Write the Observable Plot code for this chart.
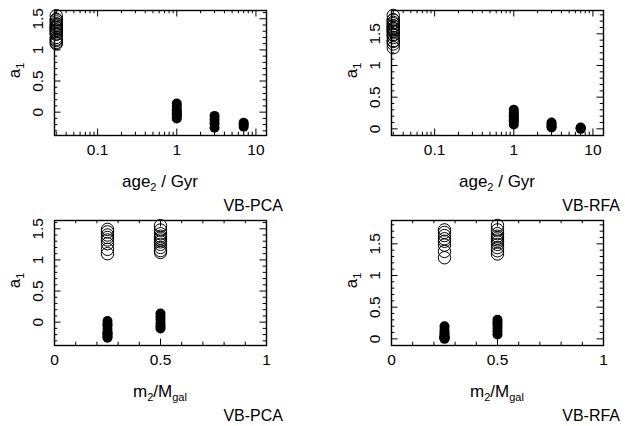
<!DOCTYPE html>
<html><head><meta charset="utf-8">
<script src="https://cdn.jsdelivr.net/npm/d3@7"></script>
<script src="https://cdn.jsdelivr.net/npm/@observablehq/plot@0.6"></script>
<style>
body{margin:0;background:#fff;}
#chart{position:relative;width:625px;height:426px;overflow:hidden;}
.panel{position:absolute;}
</style>
</head><body><div id="chart"></div>
<script>
// ---- data ----
const openAge = [0.03,0.03,0.03,0.03,0.03,0.03,0.03,0.03, 0.03,0.03,0.03,0.03,0.03,0.03,0.03,0.03,0.03,0.03,0.03];
const openM2  = [0.25,0.25,0.25,0.25,0.25,0.25,0.25,0.25, 0.5,0.5,0.5,0.5,0.5,0.5,0.5,0.5,0.5,0.5,0.5];
const openPCA = [1.49,1.45,1.40,1.36,1.32,1.26,1.17,1.10, 1.55,1.48,1.42,1.38,1.35,1.32,1.29,1.25,1.20,1.15,1.12];
const openRFA = [1.72,1.68,1.63,1.58,1.54,1.48,1.38,1.28, 1.79,1.72,1.66,1.62,1.59,1.56,1.53,1.49,1.44,1.39,1.34];

const filledAge = [1,1,1,1,1,1,1,1, 3,3,3,3, 7,7,7];
const filledM2  = [0.5,0.5,0.5,0.5,0.5,0.5,0.25,0.25, 0.25,0.25,0.25,0.25, 0.25,0.25,0.25];
const filledPCA = [0.14,0.09,0.04,-0.02,-0.07,-0.10,0.02,-0.03, -0.06,-0.12,-0.18,-0.25, -0.17,-0.20,-0.235];
const filledRFA = [0.30,0.26,0.22,0.17,0.12,0.07,0.20,0.14, 0.10,0.07,0.04,0.02, 0.02,0.01,0.00];

const ageMajor = [0.1, 1, 10];
const ageLabels = ["0.1", "1", "10"];
const ageMinor = [0.03,0.04,0.05,0.06,0.07,0.08,0.09, 0.2,0.3,0.4,0.5,0.6,0.7,0.8,0.9, 2,3,4,5,6,7,8,9];
const massMajor = [0, 0.5, 1];
const massLabels = ["0", "0.5", "1"];
const massMinor = [0.1,0.2,0.3,0.4,0.6,0.7,0.8,0.9];
const yMajor = [0, 0.5, 1, 1.5];
const yLabels = ["0", "0.5", "1", "1.5"];
const yMinorPCA = [-0.3,-0.2,-0.1,0.1,0.2,0.3,0.4,0.6,0.7,0.8,0.9,1.1,1.2,1.3,1.4,1.6];
const yMinorRFA = [0.1,0.2,0.3,0.4,0.6,0.7,0.8,0.9,1.1,1.2,1.3,1.4,1.6,1.7,1.8];
const yDomainPCA = [-0.375, 1.633];
const yDomainRFA = [-0.105, 1.868];
const ageDomain = [0.0285, 13.6];
const massDomain = [0, 1];

const open = openAge.map((a,i)=>({age:a, m2:openM2[i], pca:openPCA[i], rfa:openRFA[i]}));
const filled = filledAge.map((a,i)=>({age:a, m2:filledM2[i], pca:filledPCA[i], rfa:filledRFA[i]}));

// ---- layout ----
const W = 288, H = 216, ML = 54, MR = 22, MT = 10, MB = 81;
const FW = W - ML - MR, FH = H - MT - MB;
const MAJ = 6.5, MIN = 3.3;
const FONT = "'Liberation Sans', Arial, sans-serif";

const panels = [
  {left: 0,   top: 0,   x: "age",  y: "pca", tag: "VB-PCA"},
  {left: 337, top: 0,   x: "age",  y: "rfa", tag: "VB-RFA"},
  {left: 0,   top: 210, x: "mass", y: "pca", tag: "VB-PCA"},
  {left: 337, top: 210, x: "mass", y: "rfa", tag: "VB-RFA"}
];

const chart = document.getElementById("chart");

for (const p of panels) {
  const isAge = p.x === "age";
  const xKey = isAge ? "age" : "m2";
  const yKey = p.y;
  const xMajor = isAge ? ageMajor : massMajor;
  const xLab = isAge ? ageLabels : massLabels;
  const xMinor = isAge ? ageMinor : massMinor;
  const yMinor = p.y === "pca" ? yMinorPCA : yMinorRFA;
  const line = {stroke: "black", strokeWidth: 1};
  const svg = Plot.plot({
    width: W, height: H,
    marginLeft: ML, marginRight: MR, marginTop: MT, marginBottom: MB,
    style: {background: "transparent", overflow: "visible", fontFamily: FONT, fontSize: "15px", color: "black"},
    x: isAge ? {type: "log", domain: ageDomain, axis: null} : {type: "linear", domain: massDomain, axis: null},
    y: {domain: p.y === "pca" ? yDomainPCA : yDomainRFA, axis: null},
    marks: [
      Plot.ruleX(xMajor, {x: d => d, insetTop: FH - MAJ, ...line}),
      Plot.ruleX(xMajor, {x: d => d, insetBottom: FH - MAJ, ...line}),
      Plot.ruleX(xMinor, {x: d => d, insetTop: FH - MIN, ...line}),
      Plot.ruleX(xMinor, {x: d => d, insetBottom: FH - MIN, ...line}),
      Plot.ruleY(yMajor, {y: d => d, insetRight: FW - MAJ, ...line}),
      Plot.ruleY(yMajor, {y: d => d, insetLeft: FW - MAJ, ...line}),
      Plot.ruleY(yMinor, {y: d => d, insetRight: FW - MIN, ...line}),
      Plot.ruleY(yMinor, {y: d => d, insetLeft: FW - MIN, ...line}),
      Plot.frame({stroke: "black", strokeWidth: 1.4}),
      Plot.text(xMajor, {x: xMajor, text: xLab, frameAnchor: "bottom", dy: 15, lineAnchor: "middle", fontSize: 15.5, fill: "black"}),
      Plot.text(yMajor, {y: yMajor, text: yLabels, frameAnchor: "left", dx: -16, rotate: -90, textAnchor: "middle", lineAnchor: "middle", fontSize: 15.5, fill: "black"}),
      Plot.dot(open, {x: xKey, y: yKey, r: 6.2, stroke: "black", strokeWidth: 1, fill: "none"}),
      Plot.dot(filled, {x: xKey, y: yKey, r: 5, fill: "black", stroke: "none"})
    ]
  });
  const s = d3.select(svg);
  // x label
  const xl = s.append("text").attr("x", ML + FW / 2).attr("y", 187)
    .attr("text-anchor", "middle").attr("font-size", 17).attr("fill", "black").attr("font-family", FONT);
  if (isAge) {
    xl.append("tspan").text("age");
    xl.append("tspan").attr("font-size", 11).attr("dy", 4).text("2");
    xl.append("tspan").attr("dy", -4).text(" / Gyr");
  } else {
    xl.append("tspan").text("m");
    xl.append("tspan").attr("font-size", 11).attr("dy", 4).text("2");
    xl.append("tspan").attr("dy", -4).text("/M");
    xl.append("tspan").attr("font-size", 11).attr("dy", 4).text("gal");
  }
  // y label
  const yl = s.append("text").attr("transform", `translate(${ML - 34},${MT + FH / 2 - 2}) rotate(-90)`)
    .attr("text-anchor", "middle").attr("font-size", 17).attr("fill", "black").attr("font-family", FONT);
  yl.append("tspan").text("a");
  yl.append("tspan").attr("font-size", 11).attr("dy", 4).text("1");
  // tag
  s.append("text").attr("x", ML + FW + 17).attr("y", 211).attr("text-anchor", "end")
    .attr("font-size", 16).attr("fill", "black").attr("font-family", FONT).text(p.tag);

  const div = document.createElement("div");
  div.className = "panel";
  div.style.left = p.left + "px";
  div.style.top = p.top + "px";
  div.appendChild(svg);
  chart.appendChild(div);
}
</script>
</body></html>
